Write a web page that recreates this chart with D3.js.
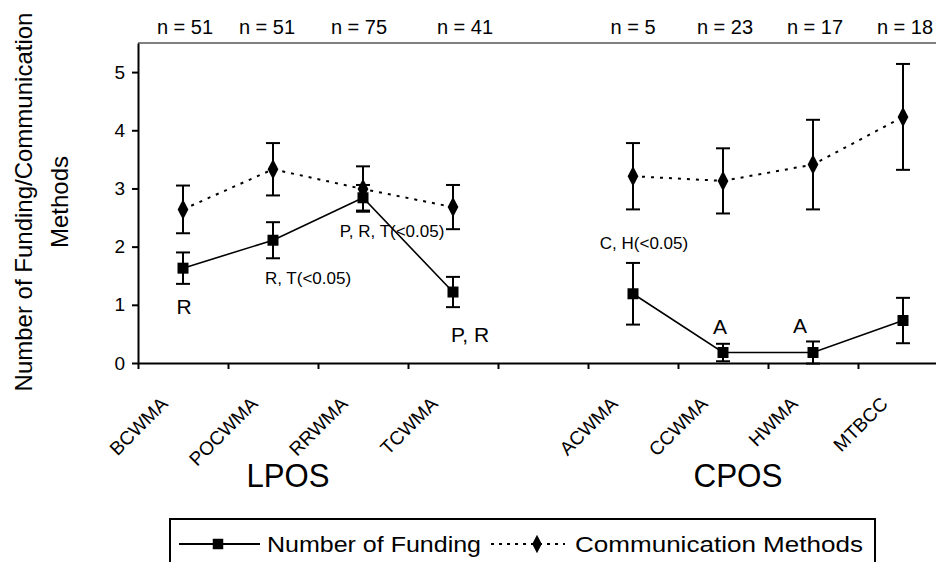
<!DOCTYPE html>
<html>
<head>
<meta charset="utf-8">
<script src="https://cdn.jsdelivr.net/npm/d3@7"></script>
<style>
  html, body { margin: 0; padding: 0; background: #fff; }
  svg { display: block; font-family: "Liberation Sans", Arial, sans-serif; }
</style>
</head>
<body>
<svg id="chart" width="936" height="562"></svg>
<script>
// Sites along the x axis; empty strings are spacer slots between the two groups
const categories = ["BCWMA", "POCWMA", "RRWMA", "TCWMA", "", "ACWMA", "CCWMA", "HWMA", "MTBCC", ""];
const sampleSizes = ["n = 51", "n = 51", "n = 75", "n = 41", "", "n = 5", "n = 23", "n = 17", "n = 18", ""];
const groups = ["LPOS", "CPOS"];
const groupSpans = [[0, 3], [5, 8]];

// Means and error-bar half widths
const funding    = [1.63, 2.11, 2.84, 1.22, null, 1.19, 0.18, 0.18, 0.73, null];
const fundingErr = [0.27, 0.31, 0.22, 0.26, null, 0.53, 0.15, 0.19, 0.39, null];
const comm       = [2.64, 3.33, 2.99, 2.68, null, 3.21, 3.13, 3.41, 4.23, null];
const commErr    = [0.41, 0.45, 0.39, 0.38, null, 0.57, 0.56, 0.77, 0.91, null];

const yTicks = [0, 1, 2, 3, 4, 5];
const seriesNames = ["Number of Funding", "Communication Methods"];

// Significance notes attached to the funding series
const notes = [
  { i: 0, text: "R", big: true },
  { i: 1, text: "R, T(<0.05)", big: false },
  { i: 2, text: "P, R, T(<0.05)", big: false },
  { i: 3, text: "P, R", big: true },
  { i: 5, text: "C, H(<0.05)", big: false },
  { i: 6, text: "A", big: true },
  { i: 7, text: "A", big: true }
];

const svg = d3.select("#chart");
const plotLeft = 138, plotTop = 43, plotBottom = 363, bandW = 90;

const xi = d3.scaleLinear().domain([0, categories.length]).range([plotLeft, plotLeft + bandW * categories.length]);
const cx = i => xi(i + 0.5);
const y = d3.scaleLinear().domain([0, 5.5]).range([plotBottom, plotTop]);

// plot frame top edge
svg.append("line")
  .attr("x1", plotLeft).attr("x2", xi(categories.length))
  .attr("y1", plotTop).attr("y2", plotTop)
  .attr("stroke", "#808080").attr("stroke-width", 2);

// y axis
const yAxis = svg.append("g")
  .attr("transform", `translate(${plotLeft},0)`)
  .call(d3.axisLeft(y).tickValues(yTicks).tickSize(6).tickSizeOuter(0).tickPadding(7).tickFormat(d3.format("d")));
yAxis.select(".domain").attr("stroke", "#000").attr("stroke-width", 2);
yAxis.selectAll(".tick line").attr("stroke", "#000").attr("stroke-width", 2);
yAxis.selectAll(".tick text").attr("font-size", 19).attr("font-family", "Liberation Sans, Arial, sans-serif").attr("fill", "#000");

// x axis with ticks at slot boundaries
const xAxis = svg.append("g")
  .attr("transform", `translate(0,${plotBottom})`)
  .call(d3.axisBottom(xi).tickValues(d3.range(0, categories.length + 1)).tickSize(6).tickSizeOuter(0).tickFormat(""));
xAxis.select(".domain").attr("stroke", "#000").attr("stroke-width", 2);
xAxis.selectAll(".tick line").attr("stroke", "#000").attr("stroke-width", 2);

// rotated site names
svg.append("g").selectAll("text")
  .data(categories.map((c, i) => ({ c, i })).filter(d => d.c))
  .join("text")
  .attr("transform", d => `translate(${cx(d.i) - 14},${plotBottom + 42}) rotate(-45)`)
  .attr("text-anchor", "end")
  .attr("font-size", 19)
  .text(d => d.c);

// group labels
const groupLabelW = [83, 89];
svg.append("g").selectAll("text")
  .data(groups)
  .join("text")
  .attr("x", (d, k) => (xi(groupSpans[k][0]) + xi(groupSpans[k][1] + 1)) / 2 - 30)
  .attr("y", 487)
  .attr("text-anchor", "middle")
  .attr("font-size", 34)
  .attr("textLength", (d, k) => groupLabelW[k])
  .attr("lengthAdjust", "spacingAndGlyphs")
  .text(d => d);

// sample sizes above the frame (small nudges keep them clear of each other)
const nNudge = [2, -6, -4, 12, 0, 0, 2, 2, 2, 0];
svg.append("g").selectAll("text")
  .data(sampleSizes.map((s, i) => ({ s, i })).filter(d => d.s))
  .join("text")
  .attr("x", d => cx(d.i) + nNudge[d.i])
  .attr("y", 34)
  .attr("text-anchor", "middle")
  .attr("font-size", 20)
  .text(d => d.s);

// y axis title
const title = svg.append("text")
  .attr("transform", "translate(32,202) rotate(-90)")
  .attr("text-anchor", "middle")
  .attr("font-size", 24);
title.append("tspan").attr("x", 0).attr("dy", 0).text("Number of Funding/Communication");
title.append("tspan").attr("x", 0).attr("dy", 36).text("Methods");

function drawSeries(vals, errs, dashed, marker) {
  const pts = vals.map((v, i) => ({ v, e: errs[i], i })).filter(d => d.v != null);
  const line = d3.line().defined(d => d.v != null).x(d => cx(d.i)).y(d => y(d.v));
  const g = svg.append("g");
  g.append("path")
    .datum(vals.map((v, i) => ({ v, i })))
    .attr("d", line)
    .attr("fill", "none")
    .attr("stroke", "#000")
    .attr("stroke-width", dashed ? 2 : 1.6)
    .attr("stroke-dasharray", dashed ? "3,6" : null);
  const eb = g.selectAll("g.eb").data(pts).join("g").attr("class", "eb");
  eb.append("line")
    .attr("x1", d => cx(d.i)).attr("x2", d => cx(d.i))
    .attr("y1", d => y(d.v + d.e)).attr("y2", d => y(d.v - d.e))
    .attr("stroke", "#000").attr("stroke-width", 2);
  [1, -1].forEach(s => {
    eb.append("line")
      .attr("x1", d => cx(d.i) - 7).attr("x2", d => cx(d.i) + 7)
      .attr("y1", d => y(d.v + s * d.e)).attr("y2", d => y(d.v + s * d.e))
      .attr("stroke", "#000").attr("stroke-width", 2);
  });
  g.selectAll("path.mk").data(pts).join("path")
    .attr("class", "mk")
    .attr("d", d3.symbol().type(marker).size(marker === d3.symbolSquare ? 121 : 100))
    .attr("transform", d => `translate(${cx(d.i)},${y(d.v)})` + (marker === d3.symbolDiamond ? " scale(1,1.1)" : ""))
    .attr("fill", "#000");
}

drawSeries(comm, commErr, true, d3.symbolDiamond);
drawSeries(funding, fundingErr, false, d3.symbolSquare);

// significance notes, placed relative to each funding point's error bar
const noteOffset = {
  0: [1, 30], 1: [35, 26], 2: [29, 26], 3: [17, 35],
  5: [11, -14], 6: [-3, -10], 7: [-13, -8]
};
svg.append("g").selectAll("text")
  .data(notes)
  .join("text")
  .attr("x", d => cx(d.i) + noteOffset[d.i][0])
  .attr("y", d => {
    const v = funding[d.i], e = fundingErr[d.i];
    const off = noteOffset[d.i][1];
    return off > 0 ? y(v - e) + off : y(v + e) + off;
  })
  .attr("text-anchor", "middle")
  .attr("font-size", d => d.big ? 21 : 17)
  .text(d => d.text);

// legend
const lg = svg.append("g");
lg.append("rect")
  .attr("x", 170).attr("y", 519).attr("width", 705).attr("height", 60)
  .attr("fill", "#fff").attr("stroke", "#000").attr("stroke-width", 2);
lg.append("line").attr("x1", 179).attr("x2", 260).attr("y1", 544).attr("y2", 544)
  .attr("stroke", "#000").attr("stroke-width", 2);
lg.append("path").attr("d", d3.symbol().type(d3.symbolSquare).size(110))
  .attr("transform", "translate(218,544)");
lg.append("text").attr("x", 267).attr("y", 552).attr("font-size", 22)
  .attr("textLength", 214).attr("lengthAdjust", "spacingAndGlyphs").text(seriesNames[0]);
lg.append("line").attr("x1", 491).attr("x2", 565).attr("y1", 544).attr("y2", 544)
  .attr("stroke", "#000").attr("stroke-width", 2).attr("stroke-dasharray", "3,5");
lg.append("path").attr("d", d3.symbol().type(d3.symbolDiamond).size(80))
  .attr("transform", "translate(537,544) scale(1,1.1)");
lg.append("text").attr("x", 575).attr("y", 552).attr("font-size", 22)
  .attr("textLength", 288).attr("lengthAdjust", "spacingAndGlyphs").text(seriesNames[1]);
</script>
</body>
</html>
